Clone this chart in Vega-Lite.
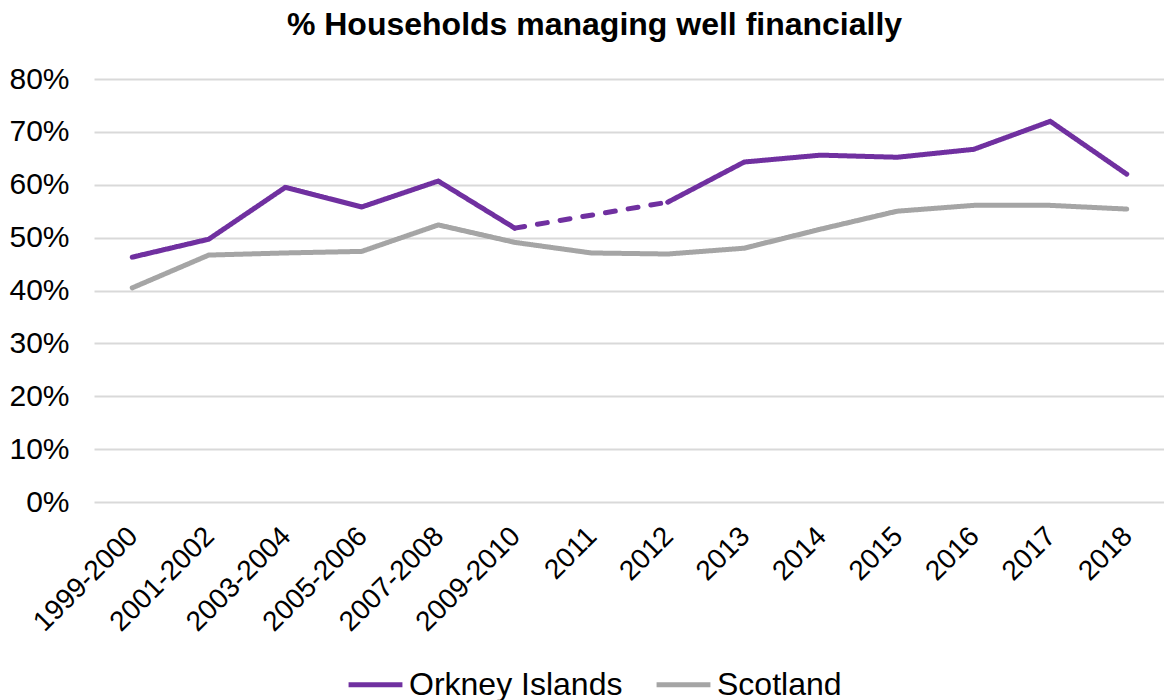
{
  "$schema": "https://vega.github.io/schema/vega-lite/v6.json",
  "width": 1071,
  "height": 423,
  "autosize": {"type": "none"},
  "padding": {"left": 94, "top": 79, "right": 0, "bottom": 198},
  "background": "white",
  "config": {
    "view": {"stroke": null},
    "font": "Liberation Sans"
  },
  "title": {
    "text": "% Households managing well financially",
    "fontSize": 32,
    "fontWeight": "bold",
    "font": "Liberation Sans",
    "color": "black",
    "anchor": "middle",
    "dx": -35,
    "offset": 22
  },
  "data": {
    "values": [
      {"period": "1999-2000", "series": "Orkney Islands", "seg": "OA", "style": "solid", "value": 0.463},
      {"period": "2001-2002", "series": "Orkney Islands", "seg": "OA", "style": "solid", "value": 0.497},
      {"period": "2003-2004", "series": "Orkney Islands", "seg": "OA", "style": "solid", "value": 0.595},
      {"period": "2005-2006", "series": "Orkney Islands", "seg": "OA", "style": "solid", "value": 0.558},
      {"period": "2007-2008", "series": "Orkney Islands", "seg": "OA", "style": "solid", "value": 0.607},
      {"period": "2009-2010", "series": "Orkney Islands", "seg": "OA", "style": "solid", "value": 0.518},
      {"period": "2009-2010", "series": "Orkney Islands", "seg": "OD", "style": "dash", "value": 0.518},
      {"period": "2012", "series": "Orkney Islands", "seg": "OD", "style": "dash", "value": 0.567},
      {"period": "2012", "series": "Orkney Islands", "seg": "OB", "style": "solid", "value": 0.567},
      {"period": "2013", "series": "Orkney Islands", "seg": "OB", "style": "solid", "value": 0.643},
      {"period": "2014", "series": "Orkney Islands", "seg": "OB", "style": "solid", "value": 0.656},
      {"period": "2015", "series": "Orkney Islands", "seg": "OB", "style": "solid", "value": 0.652},
      {"period": "2016", "series": "Orkney Islands", "seg": "OB", "style": "solid", "value": 0.667},
      {"period": "2017", "series": "Orkney Islands", "seg": "OB", "style": "solid", "value": 0.720},
      {"period": "2018", "series": "Orkney Islands", "seg": "OB", "style": "solid", "value": 0.620},
      {"period": "1999-2000", "series": "Scotland", "seg": "S", "style": "solid", "value": 0.405},
      {"period": "2001-2002", "series": "Scotland", "seg": "S", "style": "solid", "value": 0.467},
      {"period": "2003-2004", "series": "Scotland", "seg": "S", "style": "solid", "value": 0.471},
      {"period": "2005-2006", "series": "Scotland", "seg": "S", "style": "solid", "value": 0.474},
      {"period": "2007-2008", "series": "Scotland", "seg": "S", "style": "solid", "value": 0.524},
      {"period": "2009-2010", "series": "Scotland", "seg": "S", "style": "solid", "value": 0.491},
      {"period": "2011", "series": "Scotland", "seg": "S", "style": "solid", "value": 0.471},
      {"period": "2012", "series": "Scotland", "seg": "S", "style": "solid", "value": 0.469},
      {"period": "2013", "series": "Scotland", "seg": "S", "style": "solid", "value": 0.480},
      {"period": "2014", "series": "Scotland", "seg": "S", "style": "solid", "value": 0.516},
      {"period": "2015", "series": "Scotland", "seg": "S", "style": "solid", "value": 0.550},
      {"period": "2016", "series": "Scotland", "seg": "S", "style": "solid", "value": 0.561},
      {"period": "2017", "series": "Scotland", "seg": "S", "style": "solid", "value": 0.561},
      {"period": "2018", "series": "Scotland", "seg": "S", "style": "solid", "value": 0.554}
    ]
  },
  "mark": {"type": "line", "strokeWidth": 5, "strokeCap": "round", "strokeJoin": "round"},
  "encoding": {
    "x": {
      "field": "period",
      "type": "nominal",
      "sort": ["1999-2000", "2001-2002", "2003-2004", "2005-2006", "2007-2008", "2009-2010", "2011", "2012", "2013", "2014", "2015", "2016", "2017", "2018"],
      "scale": {"type": "point", "padding": 0.5},
      "axis": {
        "title": null,
        "labelAngle": -45,
        "labelFontSize": 28,
        "labelColor": "black",
        "labelFont": "Liberation Sans",
        "labelPadding": 20,
        "labelOffset": -9,
        "ticks": false,
        "domain": false,
        "grid": false,
        "labelOverlap": false
      }
    },
    "y": {
      "field": "value",
      "type": "quantitative",
      "scale": {"domain": [0, 0.8], "nice": false},
      "axis": {
        "title": null,
        "format": ".0%",
        "values": [0, 0.1, 0.2, 0.3, 0.4, 0.5, 0.6, 0.7, 0.8],
        "labelFontSize": 30,
        "labelColor": "black",
        "labelFont": "Liberation Sans",
        "labelPadding": 25,
        "ticks": false,
        "domain": false,
        "grid": true,
        "gridColor": "#D9D9D9",
        "gridWidth": 2
      }
    },
    "color": {
      "field": "series",
      "type": "nominal",
      "scale": {"domain": ["Orkney Islands", "Scotland"], "range": ["#7030A0", "#A5A5A5"]},
      "legend": {
        "title": null,
        "orient": "none",
        "legendX": 252,
        "legendY": 576,
        "direction": "horizontal",
        "symbolType": "stroke",
        "symbolSize": 2900,
        "symbolStrokeWidth": 5,
        "labelFontSize": 32,
        "labelFont": "Liberation Sans",
        "labelColor": "black",
        "labelOffset": 4,
        "columnPadding": 23,
        "labelLimit": 400
      }
    },
    "strokeDash": {
      "field": "style",
      "type": "nominal",
      "scale": {"domain": ["solid", "dash"], "range": [[1, 0], [10, 13]]},
      "legend": null
    },
    "detail": {"field": "seg"}
  }
}
